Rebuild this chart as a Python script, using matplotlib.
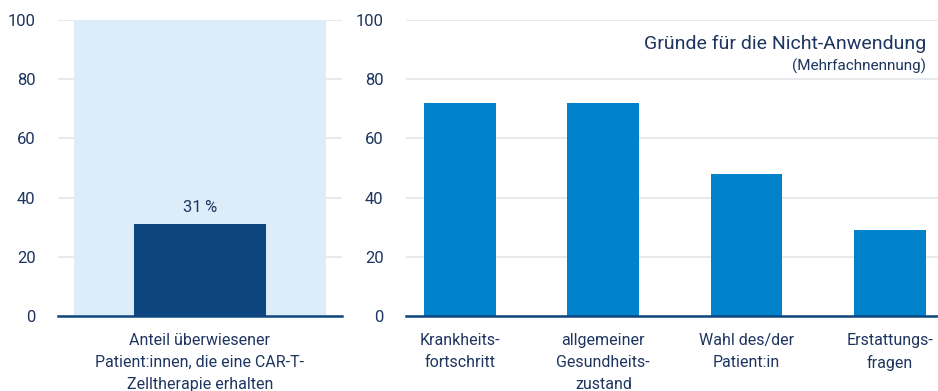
import matplotlib
matplotlib.use("Agg")
import matplotlib.pyplot as plt
from matplotlib import font_manager

# data
left_label = ["Anteil überwiesener\nPatient:innen, die eine CAR-T-\nZelltherapie erhalten"]
left_value = [31]
reasons = [
    "Krankheits-\nfortschritt",
    "allgemeiner\nGesundheits-\nzustand",
    "Wahl des/der\nPatient:in",
    "Erstattungs-\nfragen",
]
reason_values = [72, 72, 48, 29]
yticks = [0, 20, 40, 60, 80, 100]

names = {f.name for f in font_manager.fontManager.ttflist}
family = "Liberation Sans Narrow" if "Liberation Sans Narrow" in names else "Roboto"
plt.rcParams["font.family"] = [family, "DejaVu Sans"]

text_col = "#1e3560"
grid_col = "#e3e6ea"
navy = "#0d467f"
blue = "#0083cb"
pale = "#dcedf9"

fig = plt.figure(figsize=(9.38, 3.91), dpi=100)
ax1 = fig.add_axes([0.0618, 0.1918, 0.3028, 0.757])
ax2 = fig.add_axes([0.4328, 0.1918, 0.5672, 0.757])


def style(ax):
    ax.set_ylim(0, 100)
    ax.set_yticks(yticks)
    ax.grid(axis="y", color=grid_col, linewidth=1.2)
    ax.set_axisbelow(True)
    for s in ["top", "right", "left"]:
        ax.spines[s].set_visible(False)
    ax.spines["bottom"].set_color(navy)
    ax.spines["bottom"].set_linewidth(1.8)
    ax.spines["bottom"].set_zorder(5)
    ax.tick_params(axis="y", length=0, pad=16, labelsize=12, labelcolor=text_col)
    ax.tick_params(axis="x", length=0, pad=12, labelsize=11.5, labelcolor=text_col)


style(ax1)
ax1.set_xlim(-0.5, 0.5)
ax1.bar([0], [100], width=0.884, color=pale, zorder=1)
ax1.bar([0], left_value, width=0.468, color=navy, zorder=2)
ax1.set_xticks([0])
ax1.set_xticklabels(left_label, linespacing=1.6)
for v in left_value:
    ax1.text(0, v + 3, f"{v}\u2009%", ha="center", va="bottom",
             fontsize=12, color=text_col)

style(ax2)
x = range(len(reasons))
ax2.set_xlim(-0.377, 3.335)
ax2.bar(x, reason_values, width=0.5, color=blue, zorder=2)
ax2.set_xticks(list(x))
ax2.set_xticklabels(reasons, linespacing=1.6, va="top")

ax2.text(3.25, 92, "Gründe für die Nicht-Anwendung", ha="right", va="center",
         fontsize=14, color=text_col)
ax2.text(3.25, 84.5, "(Mehrfachnennung)", ha="right", va="center",
         fontsize=11, color=text_col)

fig.savefig("out.png", dpi=100)
